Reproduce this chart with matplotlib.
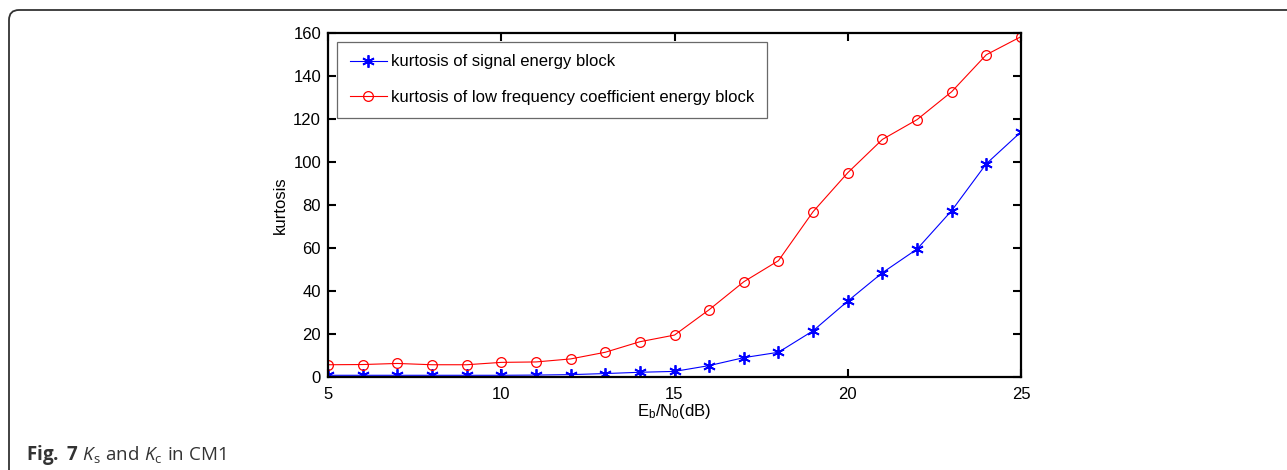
import matplotlib
matplotlib.use("Agg")
import matplotlib.pyplot as plt
from matplotlib.patches import FancyBboxPatch

# ---- data ----
snr_db = [5, 6, 7, 8, 9, 10, 11, 12, 13, 14, 15, 16, 17, 18, 19, 20, 21, 22, 23, 24, 25]
kurt_signal = [0.8, 0.8, 0.8, 0.8, 0.8, 0.8, 0.9, 1.1, 1.6, 2.2, 2.6, 5.3, 9.0, 11.5,
               21.5, 35.3, 48.5, 59.5, 77.4, 99.2, 114.0]
kurt_lowfreq = [5.7, 5.8, 6.3, 5.7, 5.7, 6.8, 7.0, 8.4, 11.5, 16.4, 19.5, 31.3, 44.3, 54.1,
                76.9, 95.0, 110.5, 119.7, 132.7, 149.9, 158.3]
label_signal = "kurtosis of signal energy block"
label_lowfreq = "kurtosis of low frequency coefficient energy block"
x_ticks = [5, 10, 15, 20, 25]
y_ticks = [0, 20, 40, 60, 80, 100, 120, 140, 160]

plt.rcParams['font.family'] = ['Liberation Sans', 'DejaVu Sans']
plt.rcParams['mathtext.fontset'] = 'custom'
plt.rcParams['mathtext.rm'] = 'Open Sans'
plt.rcParams['mathtext.it'] = 'Open Sans:italic'
plt.rcParams['mathtext.bf'] = 'Open Sans:bold'
plt.rcParams['mathtext.sf'] = 'Liberation Sans'

W, H = 1287, 470
fig = plt.figure(figsize=(W / 100, H / 100), dpi=100)

# card frame (extends past right and bottom edges)
frame = FancyBboxPatch((0.09, -0.5), 14.0, 4.6 + 0.5,
                       boxstyle="round,pad=0,rounding_size=0.1",
                       transform=fig.dpi_scale_trans, fill=False,
                       edgecolor='#333333', linewidth=1.3, clip_on=False)
fig.patches.append(frame)

ax = fig.add_axes([328 / W, 93 / H, (1021 - 328) / W, (377 - 33) / H])
ax.plot(snr_db, kurt_signal, color='#0000ff', marker=(6, 2, 0), markersize=9,
        markeredgewidth=1.3, linewidth=0.8, label=label_signal)
ax.plot(snr_db, kurt_lowfreq, color='#ff0000', marker='o', markersize=7,
        markerfacecolor='none', markeredgewidth=0.9, linewidth=0.8, label=label_lowfreq)

ax.set_xlim(5, 25)
ax.set_ylim(0, 160)
ax.set_xticks(x_ticks)
ax.set_yticks(y_ticks)
ax.tick_params(axis='both', direction='in', length=5.5, width=1.5, top=True, right=True,
               labelsize=12, colors='black')
ax.tick_params(axis='x', pad=7)
ax.tick_params(axis='y', pad=5)
for s in ax.spines.values():
    s.set_linewidth(1.6)

ax.set_ylabel("kurtosis", fontsize=12, labelpad=4)
ax.set_xlabel(r"$\mathsf{E_b/N_0(dB)}$", fontsize=12, labelpad=0)

leg = ax.legend(loc='upper left', bbox_to_anchor=(0.013, 0.974), fontsize=12,
                frameon=True, fancybox=False, handlelength=2.25, handletextpad=0.25,
                labelspacing=1.25, borderpad=0.75, borderaxespad=0)
leg.get_frame().set_edgecolor('#444444')
leg.get_frame().set_linewidth(0.9)

fig.text(26 / W, (470 - 460) / H,
         r"$\mathbf{Fig.\ 7}\ K_{\mathrm{s}}\ \mathrm{and}\ K_{\mathrm{c}}\ \mathrm{in\ CM1}$",
         fontsize=13.5, color='#333333', ha='left', va='baseline')

fig.savefig("out.png", dpi=100)
